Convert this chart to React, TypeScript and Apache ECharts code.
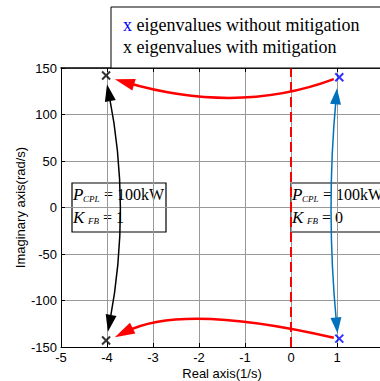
import React, { useEffect, useRef } from "react";
import * as echarts from "echarts";

// Eigenvalue markers
const blueX = [1.05, 1.05];
const blueY = [140, -141];
const blackX = [-4.02, -4.02];
const blackY = [142, -143];

// Annotation arrows: [x0, y0, ctrlX, ctrlY, x1, y1] (quadratic curves in data units)
const redArrows = [
  [0.93, 138, -1.15, 99.6, -3.83, 138],
  [0.93, -140, -2.35, -102.5, -3.83, -139.5],
];
const blackArrow = [[-3.98, -133.5, -3.47, 0.5, -4.0, 132.5]];
const blueArrow = [[1.01, -135.3, 0.755, -2.45, 1.0, 128.2]];

// Stability boundary
const boundaryX = [0, 0];
const boundaryY = [-150, 153];

const xTicks = [-5, 2, 1];
const yTicks = [-150, 150, 50];

const SERIF = "'Liberation Serif', 'Times New Roman', serif";
const SANS = "'Liberation Sans', Arial, sans-serif";

function arrowRenderer(color: string, width: number, headLen: number, headW: number, both: boolean) {
  return (params: any, api: any) => {
    const p0 = api.coord([api.value(0), api.value(1)]);
    const c = api.coord([api.value(2), api.value(3)]);
    const p1 = api.coord([api.value(4), api.value(5)]);
    const unit = (tip: number[], from: number[]) => {
      const dx = tip[0] - from[0];
      const dy = tip[1] - from[1];
      const L = Math.hypot(dx, dy) || 1;
      return [dx / L, dy / L];
    };
    const head = (tip: number[], from: number[]) => {
      const [ux, uy] = unit(tip, from);
      const bx = tip[0] - ux * headLen;
      const by = tip[1] - uy * headLen;
      const nx = -uy;
      const ny = ux;
      return {
        type: "polygon",
        shape: {
          points: [
            [tip[0], tip[1]],
            [bx + (nx * headW) / 2, by + (ny * headW) / 2],
            [bx - (nx * headW) / 2, by - (ny * headW) / 2],
          ],
        },
        style: { fill: color },
      };
    };
    const u1 = unit(p1, c);
    const e = [p1[0] - u1[0] * headLen * 0.6, p1[1] - u1[1] * headLen * 0.6];
    let s = p0;
    if (both) {
      const u0 = unit(p0, c);
      s = [p0[0] - u0[0] * headLen * 0.6, p0[1] - u0[1] * headLen * 0.6];
    }
    const children: any[] = [
      {
        type: "bezierCurve",
        shape: { x1: s[0], y1: s[1], x2: e[0], y2: e[1], cpx1: c[0], cpy1: c[1] },
        style: { stroke: color, lineWidth: width, fill: null },
      },
      head(p1, c),
    ];
    if (both) children.push(head(p0, c));
    return { type: "group", children };
  };
}

function paramBox(left: number, kValue: string) {
  const top = 183;
  return {
    type: "group",
    children: [
      {
        type: "rect",
        shape: { x: left, y: top, width: 94, height: 49 },
        style: { fill: "#fff", stroke: "#000", lineWidth: 1.2 },
      },
      { type: "text", x: left + 1, y: top + 11, style: { text: "P", font: `italic 17px ${SERIF}`, fill: "#000", verticalAlign: "middle" } },
      { type: "text", x: left + 11, y: top + 16, style: { text: "CPL", font: `italic 9px ${SERIF}`, fill: "#000", verticalAlign: "middle" } },
      { type: "text", x: left + 32, y: top + 11, style: { text: "= 100kW", font: `16px ${SERIF}`, fill: "#000", verticalAlign: "middle" } },
      { type: "text", x: left + 1, y: top + 34, style: { text: "K", font: `italic 17px ${SERIF}`, fill: "#000", verticalAlign: "middle" } },
      { type: "text", x: left + 16, y: top + 38, style: { text: "FB", font: `italic 9px ${SERIF}`, fill: "#000", verticalAlign: "middle" } },
      { type: "text", x: left + 31, y: top + 34, style: { text: "= " + kValue, font: `16px ${SERIF}`, fill: "#000", verticalAlign: "middle" } },
    ],
  };
}

export default function App() {
  const ref = useRef<HTMLDivElement>(null);
  useEffect(() => {
    document.body.style.margin = "0";
    if (!ref.current) return;
    const chart = echarts.init(ref.current, null, { renderer: "svg" });
    const xMark = "path://M0,0L10,10M10,0L0,10";
    chart.setOption({
      animation: false,
      backgroundColor: "#fff",
      grid: { left: 61, top: 68, right: -3, bottom: 34, outerBoundsMode: "none", containLabel: false },
      xAxis: [
        {
          type: "value",
          min: xTicks[0],
          max: xTicks[1],
          interval: xTicks[2],
          name: "Real axis(1/s)",
          nameLocation: "middle",
          nameGap: 20,
          nameMoveOverlap: false,
          nameTextStyle: { fontFamily: SANS, fontSize: 13, color: "#000", lineHeight: 13 },
          axisLine: { show: true, onZero: false, lineStyle: { color: "#000", width: 1 } },
          axisTick: { show: true, inside: true, length: 4, lineStyle: { color: "#000" } },
          axisLabel: {
            margin: 4,
            fontFamily: SANS,
            fontSize: 13,
            lineHeight: 13,
            color: "#000",
            formatter: (v: number) => (v === xTicks[1] ? "" : String(v)),
          },
          splitLine: { show: true, lineStyle: { color: "#999", width: 1 } },
        },
        {
          type: "value",
          position: "top",
          min: xTicks[0],
          max: xTicks[1],
          interval: xTicks[2],
          axisLine: { show: true, onZero: false, lineStyle: { color: "#000", width: 1.5 } },
          axisTick: { show: true, inside: true, length: 4, lineStyle: { color: "#000" } },
          axisLabel: { show: false },
          splitLine: { show: false },
        },
      ],
      yAxis: {
        type: "value",
        min: yTicks[0],
        max: yTicks[1],
        interval: yTicks[2],
        name: "Imaginary axis(rad/s)",
        nameLocation: "middle",
        nameGap: 34,
        nameMoveOverlap: false,
        nameTextStyle: { fontFamily: SANS, fontSize: 13, color: "#000" },
        axisLine: { show: true, onZero: false, lineStyle: { color: "#000", width: 1 } },
        axisTick: { show: true, inside: true, length: 4, lineStyle: { color: "#000" } },
        axisLabel: { margin: 4, fontFamily: SANS, fontSize: 13, color: "#000" },
        splitLine: { show: true, lineStyle: { color: "#999", width: 1 } },
      },
      series: [
        {
          type: "line",
          data: boundaryX.map((x, i) => [x, boundaryY[i]]),
          symbol: "none",
          clip: false,
          lineStyle: { color: "#ff0000", width: 2, type: [10, 5] },
          z: 3,
        },
        {
          type: "custom",
          data: redArrows,
          encode: { x: [0, 2, 4], y: [1, 3, 5] },
          renderItem: arrowRenderer("#ff0000", 2.5, 20, 12, false),
          z: 4,
        },
        {
          type: "custom",
          data: blackArrow,
          encode: { x: [0, 2, 4], y: [1, 3, 5] },
          renderItem: arrowRenderer("#000000", 1.5, 17, 11, true),
          z: 4,
        },
        {
          type: "custom",
          data: blueArrow,
          encode: { x: [0, 2, 4], y: [1, 3, 5] },
          renderItem: arrowRenderer("#0072bd", 1.5, 16, 11, true),
          z: 4,
        },
        {
          type: "scatter",
          data: blueX.map((x, i) => [x, blueY[i]]),
          symbol: xMark,
          symbolSize: 8,
          itemStyle: { color: "rgba(0,0,0,0)", borderColor: "#0000ff", borderWidth: 2 },
          z: 5,
        },
        {
          type: "scatter",
          data: blackX.map((x, i) => [x, blackY[i]]),
          symbol: xMark,
          symbolSize: 8,
          itemStyle: { color: "rgba(0,0,0,0)", borderColor: "#000000", borderWidth: 2 },
          z: 5,
        },
      ],
      graphic: [
        {
          type: "rect",
          shape: { x: 111, y: 7, width: 290, height: 61 },
          style: { fill: "#fff", stroke: "#000", lineWidth: 1 },
          z: 10,
        },
        {
          type: "text",
          x: 123,
          y: 25,
          z: 11,
          style: {
            text: "{b|x} eigenvalues without mitigation",
            font: `18px ${SERIF}`,
            fill: "#000",
            verticalAlign: "middle",
            rich: { b: { fill: "#0000ff", font: `18px ${SERIF}` } },
          },
        },
        {
          type: "text",
          x: 123,
          y: 47,
          z: 11,
          style: { text: "x eigenvalues with mitigation", font: `18px ${SERIF}`, fill: "#000", verticalAlign: "middle" },
        },
        { ...paramBox(72, "1"), z: 12 },
        { ...paramBox(291, "0"), z: 12 },
      ],
    });
    return () => chart.dispose();
  }, []);
  return <div ref={ref} style={{ width: 380, height: 381 }} />;
}
